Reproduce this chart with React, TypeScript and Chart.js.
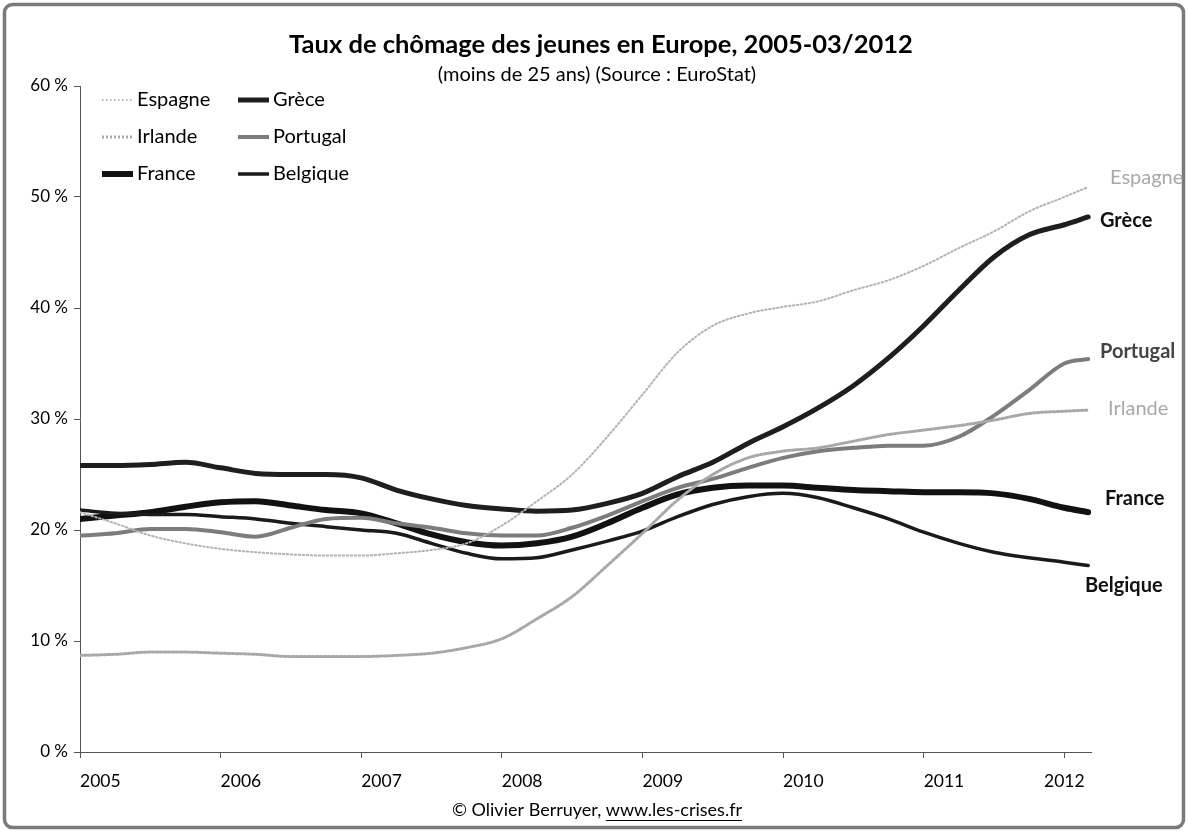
import React, { useEffect, useRef } from "react";
import { Chart, registerables } from "chart.js";

Chart.register(...registerables);

const TITLE = "Taux de chômage des jeunes en Europe, 2005-03/2012";
const SUBTITLE = "(moins de 25 ans) (Source : EuroStat)";
const FOOTER_TEXT = "© Olivier Berruyer, ";
const FOOTER_URL = "www.les-crises.fr";

// time points (years, quarterly) – last point = March 2012
const periods = [
  2005, 2005.25, 2005.5, 2005.75, 2006, 2006.25, 2006.5, 2006.75,
  2007, 2007.25, 2007.5, 2007.75, 2008, 2008.25, 2008.5, 2008.75,
  2009, 2009.25, 2009.5, 2009.75, 2010, 2010.25, 2010.5, 2010.75,
  2011, 2011.25, 2011.5, 2011.75, 2012, 2012.17,
];
const yearTicks = [2005, 2006, 2007, 2008, 2009, 2010, 2011, 2012];
const yTicks = [0, 10, 20, 30, 40, 50, 60];

const seriesNames = ["Espagne", "Grèce", "Irlande", "Portugal", "France", "Belgique"];

const espagne = [
  21.6, 20.6, 19.5, 18.8, 18.3, 18.0, 17.8, 17.7,
  17.7, 17.9, 18.2, 18.8, 20.4, 22.6, 25.0, 28.4,
  32.2, 36.0, 38.4, 39.5, 40.1, 40.6, 41.6, 42.5,
  43.8, 45.4, 46.9, 48.7, 50.0, 50.9,
];
const grece = [
  25.8, 25.8, 25.9, 26.1, 25.6, 25.1, 25.0, 25.0,
  24.7, 23.6, 22.8, 22.2, 21.9, 21.7, 21.8, 22.4,
  23.3, 24.8, 26.1, 27.8, 29.3, 31.0, 33.0, 35.5,
  38.4, 41.6, 44.6, 46.6, 47.5, 48.2,
];
const irlande = [
  8.7, 8.8, 9.0, 9.0, 8.9, 8.8, 8.6, 8.6,
  8.6, 8.7, 8.9, 9.4, 10.2, 12.0, 14.0, 16.8,
  19.7, 22.7, 25.0, 26.5, 27.1, 27.4, 28.0, 28.6,
  29.0, 29.4, 29.9, 30.5, 30.7, 30.8,
];
const portugal = [
  19.5, 19.7, 20.1, 20.1, 19.8, 19.4, 20.2, 21.0,
  21.1, 20.6, 20.2, 19.7, 19.5, 19.5, 20.2, 21.3,
  22.6, 23.8, 24.6, 25.6, 26.5, 27.1, 27.4, 27.6,
  27.6, 28.4, 30.3, 32.6, 35.0, 35.4,
];
const france = [
  21.0, 21.3, 21.6, 22.1, 22.5, 22.6, 22.2, 21.8,
  21.5, 20.6, 19.6, 18.9, 18.6, 18.8, 19.4, 20.6,
  22.0, 23.2, 23.8, 24.0, 24.0, 23.8, 23.6, 23.5,
  23.4, 23.4, 23.3, 22.8, 22.0, 21.6,
];
const belgique = [
  21.8, 21.5, 21.4, 21.4, 21.2, 21.0, 20.6, 20.3,
  20.0, 19.7, 18.8, 17.9, 17.4, 17.5, 18.2, 19.0,
  19.9, 21.2, 22.3, 23.0, 23.3, 22.9, 22.0, 21.0,
  19.8, 18.8, 18.0, 17.5, 17.1, 16.8,
];
const seriesValues = [espagne, grece, irlande, portugal, france, belgique];

// styles (not data)
const FONT = "Lato, 'Open Sans', sans-serif";
const lineStyles = [
  { color: "#b3b3b3", width: 2, dash: [1.5, 2.5] },
  { color: "#1e1e1e", width: 5, dash: [] },
  { color: "#a8a8a8", width: 3, dash: [2, 2] },
  { color: "#7c7c7c", width: 4, dash: [] },
  { color: "#111111", width: 6, dash: [] },
  { color: "#1a1a1a", width: 3.5, dash: [] },
];
const legendSlots = [
  { x: 102, y: 100 }, { x: 238, y: 100 },
  { x: 102, y: 137 }, { x: 238, y: 137 },
  { x: 102, y: 174 }, { x: 238, y: 174 },
];
const endLabels = [
  { x: 1110, dy: -9, color: "#a8a8a8", bold: false },
  { x: 1100, dy: 4, color: "#111", bold: true },
  { x: 1108, dy: -2, color: "#a8a8a8", bold: false },
  { x: 1100, dy: -8, color: "#444", bold: true },
  { x: 1105, dy: -14, color: "#111", bold: true },
  { x: 1085, dy: 20, color: "#111", bold: true },
];

const decorPlugin = {
  id: "decor",
  beforeDraw(chart: any) {
    const ctx = chart.ctx;
    ctx.save();
    ctx.fillStyle = "#ffffff";
    ctx.fillRect(0, 0, chart.width, chart.height);
    ctx.strokeStyle = "#7a7a7a";
    ctx.lineWidth = 3.5;
    ctx.beginPath();
    (ctx as any).roundRect(4.5, 4.5, chart.width - 9, chart.height - 8, 8);
    ctx.stroke();
    ctx.restore();
  },
  afterDraw(chart: any) {
    const ctx = chart.ctx;
    const xs = chart.scales.x;
    const ys = chart.scales.y;
    ctx.save();
    ctx.textBaseline = "middle";
    ctx.fillStyle = "#000";
    // title
    ctx.textAlign = "center";
    ctx.font = `bold 25.5px ${FONT}`;
    ctx.fillText(TITLE, 601, 45);
    ctx.font = `20px ${FONT}`;
    ctx.fillText(SUBTITLE, 597, 75);
    // footer
    ctx.font = `18px ${FONT}`;
    const w1 = ctx.measureText(FOOTER_TEXT).width;
    const w2 = ctx.measureText(FOOTER_URL).width;
    const fx = 597 - (w1 + w2) / 2;
    ctx.textAlign = "left";
    ctx.fillText(FOOTER_TEXT, fx, 810);
    ctx.fillText(FOOTER_URL, fx + w1, 810);
    ctx.fillRect(fx + w1, 820, w2, 1);
    // x tick labels
    ctx.font = `17.5px ${FONT}`;
    yearTicks.forEach((yr, i) => {
      const px = xs.getPixelForValue(yr);
      if (i === yearTicks.length - 1) {
        ctx.textAlign = "center";
        ctx.fillText(String(yr), px, 781);
      } else {
        ctx.textAlign = "left";
        ctx.fillText(String(yr), px, 781);
      }
    });
    // legend
    seriesNames.forEach((name, i) => {
      const s = lineStyles[i];
      const slot = legendSlots[i];
      ctx.strokeStyle = s.color;
      ctx.lineWidth = s.width;
      ctx.setLineDash(s.dash);
      ctx.beginPath();
      ctx.moveTo(slot.x, slot.y);
      ctx.lineTo(slot.x + 31, slot.y);
      ctx.stroke();
      ctx.setLineDash([]);
      ctx.fillStyle = "#000";
      ctx.textAlign = "left";
      ctx.font = `20px ${FONT}`;
      ctx.fillText(name, slot.x + 35, slot.y);
    });
    // end labels
    seriesNames.forEach((name, i) => {
      const vals = seriesValues[i];
      const lab = endLabels[i];
      const py = ys.getPixelForValue(vals[vals.length - 1]) + lab.dy;
      ctx.fillStyle = lab.color;
      ctx.textAlign = "left";
      ctx.font = `${lab.bold ? "bold " : ""}20px ${FONT}`;
      ctx.fillText(name, lab.x, py);
    });
    ctx.restore();
  },
};

export default function App() {
  const ref = useRef<HTMLCanvasElement | null>(null);
  useEffect(() => {
    if (!ref.current) return;
    const datasets = seriesNames.map((name, i) => ({
      label: name,
      data: periods.map((p, j) => ({ x: p, y: seriesValues[i][j] })),
      borderColor: lineStyles[i].color,
      borderWidth: lineStyles[i].width,
      borderDash: lineStyles[i].dash,
      pointRadius: 0,
      fill: false,
      cubicInterpolationMode: "monotone" as const,
      borderCapStyle: "round" as const,
    }));
    // draw order: light lines first, dark last
    const order = [0, 2, 3, 1, 5, 4];
    const chart = new Chart(ref.current, {
      type: "line",
      data: { datasets: order.map((k) => ({ ...datasets[k], order: 0 })) },
      options: {
        animation: false,
        responsive: false,
        devicePixelRatio: 1,
        layout: { padding: { top: 86, right: 97, bottom: 0, left: 0 } },
        plugins: {
          legend: { display: false },
          tooltip: { enabled: false },
          title: { display: false },
        },
        scales: {
          x: {
            type: "linear",
            min: 2005,
            max: 2012.19,
            afterBuildTicks: (scale: any) => {
              scale.ticks = yearTicks.map((v) => ({ value: v }));
            },
            afterFit: (scale: any) => {
              scale.height = 79;
            },
            grid: {
              display: true,
              drawOnChartArea: false,
              drawTicks: true,
              tickLength: 6,
              color: "#555",
            },
            border: { display: true, color: "#555", width: 1 },
            ticks: { display: false },
          },
          y: {
            min: 0,
            max: 60,
            afterBuildTicks: (scale: any) => {
              scale.ticks = yTicks.map((v) => ({ value: v }));
            },
            afterFit: (scale: any) => {
              scale.width = 80;
            },
            grid: {
              display: true,
              drawOnChartArea: false,
              drawTicks: true,
              tickLength: 6,
              color: "#555",
            },
            border: { display: true, color: "#555", width: 1 },
            ticks: {
              color: "#000",
              padding: 6,
              font: { family: FONT, size: 17 },
              callback: (v: any) => `${v} %`,
            },
          },
        },
      },
      plugins: [decorPlugin],
    });
    return () => chart.destroy();
  }, []);
  return (
    <div style={{ position: "absolute", left: 0, top: 0, width: 1188, height: 831 }}>
      <canvas ref={ref} width={1188} height={831} style={{ display: "block" }} />
    </div>
  );
}
